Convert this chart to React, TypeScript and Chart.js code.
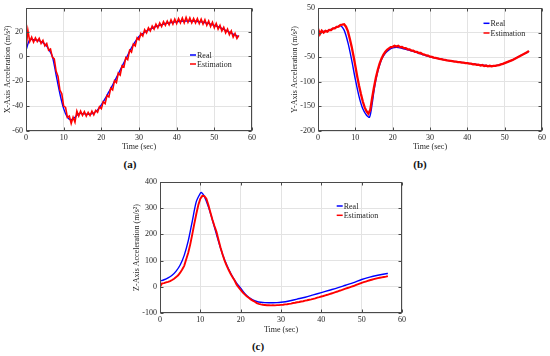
import React, { useEffect, useRef } from 'react';
import { Chart, registerables } from 'chart.js';

Chart.register(...registerables);

const FONT = "'Liberation Serif', 'Times New Roman', Times, serif";
const TEXT = '#262626';

const xTicks = [0, 10, 20, 30, 40, 50, 60];
const yTicksA = [-60, -40, -20, 0, 20];
const yTicksB = [-200, -150, -100, -50, 0, 50];
const yTicksC = [-100, 0, 100, 200, 300, 400];

// shared sample times of the estimation series (sec)
const timeEst = [0,0.5,1,1.5,2,2.5,3,3.5,4,4.5,5,5.5,6,6.5,7,7.5,8,8.5,9,9.5,10,10.5,11,11.5,12,12.5,13,13.5,14,14.5,15,15.5,16,16.5,17,17.5,18,18.5,19,19.5,20,20.5,21,21.5,22,22.5,23,23.5,24,24.5,25,25.5,26,26.5,27,27.5,28,28.5,29,29.5,30,30.5,31,31.5,32,32.5,33,33.5,34,34.5,35,35.5,36,36.5,37,37.5,38,38.5,39,39.5,40,40.5,41,41.5,42,42.5,43,43.5,44,44.5,45,45.5,46,46.5,47,47.5,48,48.5,49,49.5,50,50.5,51,51.5,52,52.5,53,53.5,54,54.5,55,55.5,56,56.5];

// (a) X-axis
const timeRealA = [0,1,2,3,4,5,6,7,8,9,10,11,12,13,14,15,16,17,18,19,20,21,22,23,24,25,26,27,28,29,30,31,32,33,34,35,36,37,38,39,40,41,42,43,44,45,46,47,48,49,50,51,52,53,54,55,56,56.5];
const realA = [5,13.5,13.5,13,12,10,6,0,-15,-30,-42,-49,-51,-49,-46,-46,-46.5,-46.5,-45.5,-43,-39,-34,-28.5,-23,-17,-11,-5,1,7,12,16,18.5,20.5,22,23.5,24.5,25.5,26.5,27,27.5,28,28.3,28.5,28.5,28.5,28.3,28,27.5,26.8,26,25,24,22.5,21,19.5,18,16.5,16];
const estA = [6,21,12,15.5,11.5,15,12,14.5,10.5,13,8.5,10.5,5,6,-0.5,-2,-12,-16,-27,-30,-40,-41,-49,-48,-54,-49,-53,-44,-48,-44,-47.5,-44.5,-48,-45,-47.5,-44,-47,-43.5,-45,-40.5,-42,-36.5,-38,-31.5,-32.5,-25.5,-27,-19.5,-21,-13.5,-15,-7.5,-8.5,-1,-2.5,5,3.5,10,8.5,15,13.5,18.5,16.5,21.5,19,23,20.5,24.5,22,26,23,27,24,28,25,28.5,25.5,29.5,26,30,26.5,30.5,27,31,27,31.5,27.5,31,27,30.5,27,30.5,26.5,30,26,29.5,25,28.5,24,27.5,23,26.5,22,25,20.5,23.5,19,22,17.5,20.5,15.5,18.5,14.5,17];

// (b) Y-axis
const timeRealB = [0,1,2,3,4,5,6,7,8,9,10,11,12,13,13.8,14.5,15,15.5,16,17,18,19,20,21,22,23,24,25,26,27,28,29,30,31,32,33,34,35,36,37,38,39,40,41,42,43,44,45,46,47,48,49,50,51,52,53,54,55,56,56.5];
const realB = [0,2,3,5,8,11,14,5,-20,-55,-95,-130,-155,-168,-172,-145,-118,-96,-79,-55,-42,-35,-31,-30,-31,-33,-35,-37,-39.5,-42,-44.5,-47,-49,-51,-52.5,-54,-55.5,-57,-58,-59,-60,-61,-62,-63,-64,-65,-66,-67,-67.5,-67.5,-66.5,-64.5,-62,-59,-56,-52,-48,-44,-40,-38];
const estB = [8,-3,4,0,3.5,2,5.5,5,8.5,8.5,11.5,12,15.5,16,17,12,3,-12,-28,-47,-68,-89,-108,-125,-140,-152,-160,-165,-157,-133,-111,-92,-76,-63,-53,-45,-39.5,-35,-32,-29.5,-29,-27,-28.5,-27,-29.5,-29,-31.5,-31.5,-34,-34,-36.5,-36.5,-39,-39,-41.5,-41.5,-44,-44.5,-46.5,-47,-49,-49.5,-51,-51.5,-52.5,-53.5,-54,-55,-55.5,-56.5,-57,-57.5,-58,-59,-59,-60,-60,-61,-61,-62,-62,-63,-63,-64.5,-64,-65.5,-65,-67,-66,-68,-67,-68.5,-67.5,-68.5,-67.5,-67.5,-66.5,-66,-64.5,-63.5,-62,-60.5,-59,-57.5,-56,-54,-52,-50,-48,-46,-44,-42,-40,-37];

// (c) Z-axis
const timeRealC = [0,1,2,3,4,5,6,7,8,9,10,10.3,11,12,13,14,15,16,17,18,19,20,21,22,23,24,25,26,27,28,29,30,32,34,36,38,40,42,44,46,48,50,52,54,56,56.5];
const realC = [22,27,34,44,60,83,120,175,250,325,357,360,345,305,255,200,148,103,68,38,14,-5,-25,-40,-50,-56,-59,-60.5,-61,-61,-60.5,-59,-54,-47,-40,-31,-22,-13,-4,6,16,28,37,44,50,51];
const estC = [0,13,14,17,19,22,26,31,37,44,54,66,80,105,130,162,200,240,278,312,336,347,346,336,312,284,256,232,210,180,150,124,101,82,65,50,36,24,8,-2,-12,-21,-29,-36,-42,-48,-53,-57,-62,-65,-67,-68.5,-69.5,-70.5,-70,-71,-70,-71,-70,-70,-69,-68.5,-67,-66.5,-65,-64,-62,-61,-59,-58,-56,-55,-53,-51.5,-49.5,-48,-46,-44,-41.5,-39.5,-37,-35,-32.5,-30.5,-28,-25.5,-23,-20.5,-18,-15,-12.5,-9.5,-7,-4.5,-2,0.5,3,6,9,12,15,17.5,20,22.5,25,27,29,31,33,34.5,36,37.5,39,41];

const framePlugin = {
  id: 'frame',
  afterDraw(chart: any, _args: any, opts: any) {
    const { ctx, chartArea: a, scales } = chart;
    const L = Math.round(a.left) + 0.5;
    const R = Math.round(a.right) - 0.5;
    const T = Math.round(a.top) + 0.5;
    const B = Math.round(a.bottom) - 0.5;
    ctx.save();
    ctx.strokeStyle = '#4a4a4a';
    ctx.lineWidth = 1;
    ctx.strokeRect(L, T, R - L, B - T);
    ctx.beginPath();
    scales.x.ticks.forEach((t: any) => {
      const px = Math.round(scales.x.getPixelForValue(t.value)) + 0.5;
      ctx.moveTo(px, B); ctx.lineTo(px, B - 3);
      ctx.moveTo(px, T); ctx.lineTo(px, T + 3);
    });
    scales.y.ticks.forEach((t: any) => {
      const py = Math.round(scales.y.getPixelForValue(t.value)) + 0.5;
      ctx.moveTo(L, py); ctx.lineTo(L + 3, py);
      ctx.moveTo(R, py); ctx.lineTo(R - 3, py);
    });
    ctx.stroke();
    // legend
    const lx = a.left + opts.lx;
    let ly = a.top + opts.ly;
    ctx.font = `8px ${FONT}`;
    ctx.textBaseline = 'middle';
    ctx.textAlign = 'left';
    chart.data.datasets.forEach((ds: any) => {
      ctx.strokeStyle = ds.borderColor;
      ctx.lineWidth = 1.5;
      ctx.beginPath();
      ctx.moveTo(lx, ly); ctx.lineTo(lx + 6, ly);
      ctx.stroke();
      ctx.fillStyle = TEXT;
      ctx.fillText(ds.label, lx + 7, ly + 0.5);
      ly += opts.gap;
    });
    ctx.restore();
  },
};

type Spec = {
  left: number; top: number; w: number; h: number;
  padding: any; yWidth: number; yTitlePad: number; xTitlePad: number;
  yTitle: string; yMin: number; yMax: number; yTicks: number[];
  realT: number[]; real: number[]; est: number[]; estWidth: number;
  legend: { lx: number; ly: number; gap: number };
};

function buildConfig(s: Spec): any {
  const tickFont = { family: FONT, size: 8 };
  return {
    type: 'line',
    data: {
      datasets: [
        {
          label: 'Real',
          data: s.realT.map((t, i) => ({ x: t, y: s.real[i] })),
          borderColor: '#0000ff',
          borderWidth: 1.4,
          pointRadius: 0,
          tension: 0.3,
          order: 2,
        },
        {
          label: 'Estimation',
          data: timeEst.map((t, i) => ({ x: t, y: s.est[i] })),
          borderColor: '#ff0000',
          borderWidth: s.estWidth,
          pointRadius: 0,
          tension: 0,
          order: 1,
        },
      ],
    },
    options: {
      animation: false,
      responsive: false,
      maintainAspectRatio: false,
      layout: { padding: s.padding },
      scales: {
        x: {
          type: 'linear',
          min: 0,
          max: 60,
          afterBuildTicks: (sc: any) => { sc.ticks = xTicks.map((v) => ({ value: v })); },
          afterFit: (sc: any) => { sc.height = 22; },
          ticks: { font: tickFont, color: TEXT, padding: 2, maxRotation: 0, autoSkip: false, callback: (v: any) => String(v) },
          grid: { color: '#e3e3e3', drawTicks: false, lineWidth: 1 },
          border: { display: false },
          title: { display: true, text: 'Time (sec)', font: tickFont, color: TEXT, padding: { top: 0, bottom: s.xTitlePad } },
        },
        y: {
          type: 'linear',
          min: s.yMin,
          max: s.yMax,
          afterBuildTicks: (sc: any) => { sc.ticks = s.yTicks.map((v) => ({ value: v })); },
          afterFit: (sc: any) => { sc.width = s.yWidth; },
          ticks: { font: tickFont, color: TEXT, padding: 3, autoSkip: false, callback: (v: any) => String(v) },
          grid: { color: '#e3e3e3', drawTicks: false, lineWidth: 1 },
          border: { display: false },
          title: { display: true, text: s.yTitle, font: tickFont, color: TEXT, padding: { top: s.yTitlePad, bottom: 0 } },
        },
      },
      plugins: {
        legend: { display: false },
        tooltip: { enabled: false },
        frame: s.legend,
      },
    },
    plugins: [framePlugin],
  };
}

const specs: Spec[] = [
  {
    left: 0, top: 0, w: 275, h: 155,
    padding: { top: 8, right: 23, bottom: 2, left: 0 },
    yWidth: 26, yTitlePad: 3, xTitlePad: 1,
    yTitle: 'X-Axis Acceleration (m/s²)', yMin: -60, yMax: 39, yTicks: yTicksA,
    realT: timeRealA, real: realA, est: estA, estWidth: 1.6,
    legend: { lx: 164, ly: 47, gap: 9 },
  },
  {
    left: 283, top: 0, w: 267, h: 155,
    padding: { top: 8, right: 8, bottom: 2, left: 0 },
    yWidth: 35, yTitlePad: 7, xTitlePad: 1,
    yTitle: 'Y-Axis Acceleration (m/s²)', yMin: -200, yMax: 50, yTicks: yTicksB,
    realT: timeRealB, real: realB, est: estB, estWidth: 2.3,
    legend: { lx: 165.5, ly: 15.3, gap: 9.7 },
  },
  {
    left: 128, top: 172, w: 290, h: 165,
    padding: { top: 10, right: 16, bottom: 2, left: 0 },
    yWidth: 32, yTitlePad: 4, xTitlePad: 0,
    yTitle: 'Z-Axis Acceleration (m/s²)', yMin: -100, yMax: 400, yTicks: yTicksC,
    realT: timeRealC, real: realC, est: estC, estWidth: 1.9,
    legend: { lx: 176.7, ly: 24, gap: 9.3 },
  },
];

const panelLabels = [
  { text: '(a)', x: 130, y: 164 },
  { text: '(b)', x: 420, y: 164 },
  { text: '(c)', x: 258, y: 346 },
];

function Panel({ spec }: { spec: Spec }) {
  const ref = useRef<HTMLCanvasElement>(null);
  useEffect(() => {
    const chart = new Chart(ref.current as HTMLCanvasElement, buildConfig(spec));
    return () => chart.destroy();
  }, [spec]);
  return (
    <canvas
      ref={ref}
      width={spec.w}
      height={spec.h}
      style={{ position: 'absolute', left: spec.left, top: spec.top, width: spec.w, height: spec.h }}
    />
  );
}

export default function App() {
  return (
    <div style={{ position: 'fixed', left: 0, top: 0, width: 550, height: 356, background: '#fff', overflow: 'hidden' }}>
      {specs.map((s, i) => (
        <Panel key={i} spec={s} />
      ))}
      {panelLabels.map((p) => (
        <div
          key={p.text}
          style={{
            position: 'absolute', left: p.x - 20, top: p.y - 7, width: 40, height: 14,
            lineHeight: '14px', textAlign: 'center', fontFamily: FONT, fontWeight: 'bold',
            fontSize: 11, color: '#111',
          }}
        >
          {p.text}
        </div>
      ))}
    </div>
  );
}
